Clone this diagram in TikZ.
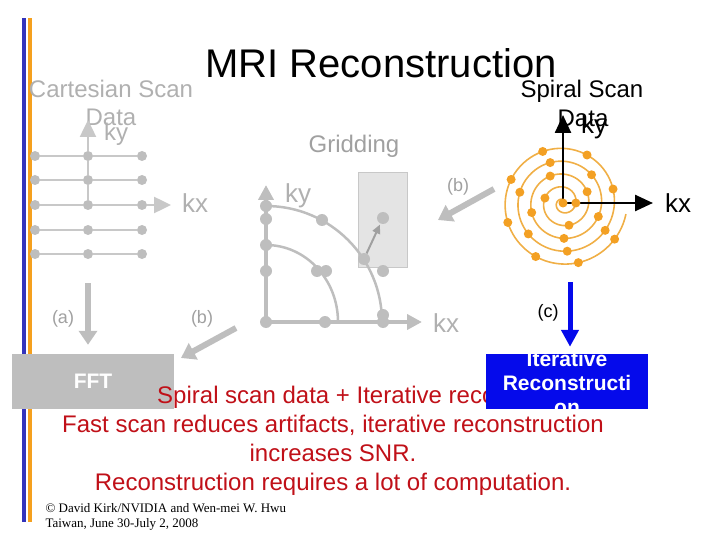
\documentclass[tikz,border=0pt]{standalone}
\usepackage{fontspec}
\setmainfont{Liberation Sans}
\newfontfamily\timesfont{Liberation Serif}
\usetikzlibrary{arrows.meta}
\usetikzlibrary{calc}

\definecolor{barblue}{RGB}{51,51,187}
\definecolor{barorange}{RGB}{245,160,30}
\definecolor{dotgray}{RGB}{190,190,190}
\definecolor{linegray}{RGB}{200,200,200}
\definecolor{captiongray}{RGB}{176,176,176}
\definecolor{labelgray}{RGB}{160,160,160}
\definecolor{cellgray}{RGB}{228,228,228}
\definecolor{spiralorange}{RGB}{243,160,35}
\definecolor{spiralline}{RGB}{240,175,70}
\definecolor{notered}{RGB}{192,16,24}
\definecolor{iterblue}{RGB}{5,10,235}

\tikzset{
  cartdot/.style={circle, fill=dotgray, inner sep=0pt, minimum size=10pt},
  griddot/.style={circle, fill=dotgray, inner sep=0pt, minimum size=12pt},
  spiraldot/.style={circle, fill=spiralorange, inner sep=0pt, minimum size=9pt},
  gridline/.style={draw=linegray, line width=2.5pt},
  scantext/.style={anchor=base, font=\fontsize{24}{28}\selectfont},
  axislabel/.style={anchor=base, font=\fontsize{26}{28}\selectfont},
  steplabel/.style={anchor=base, font=\fontsize{18}{20}\selectfont},
  bigarrow/.style={draw=dotgray, line width=6pt, -{Triangle[width=18pt,length=14pt]}},
  stagebox/.style={minimum width=162pt, minimum height=55pt, inner sep=0pt},
  stagetext/.style={text=white, font=\bfseries\fontsize{21}{24}\selectfont, align=center, inner sep=0pt},
  redline/.style={anchor=base, text=notered, font=\fontsize{24}{29}\selectfont},
}

\begin{document}
\begin{tikzpicture}[x=1pt,y=-1pt]
\useasboundingbox (0,0) rectangle (720,540);

% side bars
\fill[barblue] (22,18) rectangle (26,522);
\fill[barorange] (28,18) rectangle (32,522);

\node[anchor=base, font=\fontsize{40}{44}\selectfont] (title) at (381,78) {MRI Reconstruction};

% cartesian scan data
\node[scantext, text=captiongray] (cartname) at (111,98) {Cartesian Scan};
\node[scantext, text=captiongray] (cartdata) at (111,126) {Data};
\foreach \r [count=\i] in {156,180,205,230,254} {
  \foreach \c [count=\j] in {35,88,142}
    \node[cartdot] (c-\i-\j) at (\c,\r) {};
  \draw[gridline] (c-\i-1) -- (c-\i-2) -- (c-\i-3);
}
\coordinate (cky) at (88,120);
\coordinate (ckx) at (171,205);
\draw[gridline] (c-3-2) -- (c-2-2) -- (c-1-2);
\draw[gridline, -{Triangle[width=16pt,length=17pt]}] (c-1-2) -- (cky);
\draw[gridline, -{Triangle[width=16pt,length=17pt]}] (c-3-3) -- (ckx);
\node[axislabel, text=captiongray, font=\fontsize{24}{26}\selectfont] (cartky) at (116,141) {ky};
\node[axislabel, text=captiongray] (cartkx) at (195,213) {kx};

% gridding
\node[scantext, text=labelgray] (gridname) at (354,153) {Gridding};
\fill[cellgray, draw=linegray, line width=1pt] (358,173) rectangle (407,267);
\coordinate (go) at (266,322);
\coordinate (gky) at (266,185);
\coordinate (gkx) at (422,322);
\draw[draw=dotgray, line width=4pt, -{Triangle[width=15pt,length=15pt]}] (go) -- (gky);
\draw[draw=dotgray, line width=4pt, -{Triangle[width=15pt,length=15pt]}] (go) -- (gkx);
\draw[draw=dotgray, line width=2.5pt] (266,206) arc[start angle=-90, end angle=0, radius=116];
\draw[draw=dotgray, line width=2.5pt] (266,245) arc[start angle=-90, end angle=0, x radius=72, y radius=77];
\foreach \p [count=\k] in {(266,206),(266,219),(266,245),(266,271),(266,322),
    (322,220),(317,271),(326,271),(325,322),(383,315),(383,322),(383,271)}
  \node[griddot] (g-\k) at \p {};
\node[griddot] (gmove) at (364,259) {};
\node[griddot] (gcell) at (383,218) {};
\draw[draw=labelgray, line width=2pt, -{Triangle[width=8pt,length=9pt]}, shorten >=1pt] (gmove) -- (gcell);
\node[axislabel, text=captiongray] (gridky) at (298,203) {ky};
\node[axislabel, text=captiongray] (gridkx) at (446,332) {kx};

% spiral scan data
\node[scantext] (spiralname) at (582,98) {Spiral Scan};
\node[scantext] (spiraldata) at (583,127) {Data};
\coordinate (sc) at (563,203);
\draw[spiralline, line width=1.6pt] plot[domain=0:1790, samples=400, smooth]
  ({563+0.0357*\x*cos(\x)}, {203-0.0357*\x*sin(\x)});
\draw[black, line width=2.5pt, -{Triangle[width=16pt,length=18pt]}] (sc) -- (563,115);
\draw[black, line width=2.5pt, -{Triangle[width=16pt,length=18pt]}] (sc) -- (653,203);
\foreach \t [count=\k] in {0,360,524.7,645,745,835.4,916.9,991.6,1059,1124.7,1187.6,1246,
    1301.7,1355,1407,1455.6,1503.4,1551.5,1595.6,1639.4,1683,1724.4,1765}
  \node[spiraldot] (s-\k) at ({563+0.0357*\t*cos(\t)}, {203-0.0357*\t*sin(\t)}) {};
\node[axislabel] (spiralky) at (594,134) {ky};
\node[axislabel] (spiralkx) at (678,212) {kx};

% stages
\node[stagebox, fill=dotgray] (fft) at (93,381.5) {};
\node[stagetext] (ffttext) at (fft.center) {FFT};
\node[redline] (note1) at (333,403) {Spiral scan data + Iterative recon};
\node[redline] (note2) at (333,432) {Fast scan reduces artifacts, iterative reconstruction};
\node[redline] (note3) at (333,461) {increases SNR.};
\node[redline] (note4) at (333,490) {Reconstruction requires a lot of computation.};
\node[stagebox, fill=iterblue] (iter) at (567,381.5) {};
\begin{scope}
  \clip (iter.north west) rectangle (iter.south east);
  \node[stagetext] (itertext) at ([yshift=-1pt]iter.center) {Iterative\\Reconstructi\\on};
\end{scope}

\coordinate (astart) at (88,283);
\draw[bigarrow, shorten >=9pt] (astart) -- (astart |- fft.north);
\node[steplabel, text=labelgray] (alabel) at (63,323) {(a)};
\coordinate (bstart) at (236,328);
\coordinate (bend) at (181,358);
\draw[bigarrow] (bstart) -- (bend);
\node[steplabel, text=labelgray] (blabel) at (202,323) {(b)};
\coordinate (b2start) at (494,189);
\coordinate (b2end) at (438,220);
\draw[bigarrow] (b2start) -- (b2end);
\node[steplabel, text=labelgray] (b2label) at (458,192) {(b)};
\coordinate (cstart) at (570,282);
\draw[draw=iterblue, line width=5pt, -{Triangle[width=17pt,length=17pt]}, shorten >=7pt] (cstart) -- (cstart |- iter.north);
\node[steplabel] (clabel) at (548,317) {(c)};

\node[anchor=base west, font=\timesfont\fontsize{13}{15}\selectfont] (credit1) at (42,512) {© David Kirk/NVIDIA and Wen-mei W. Hwu};
\node[anchor=base west, font=\timesfont\fontsize{13}{15}\selectfont] (credit2) at (42,527) {Taiwan, June 30-July 2, 2008};
\end{tikzpicture}
\end{document}
